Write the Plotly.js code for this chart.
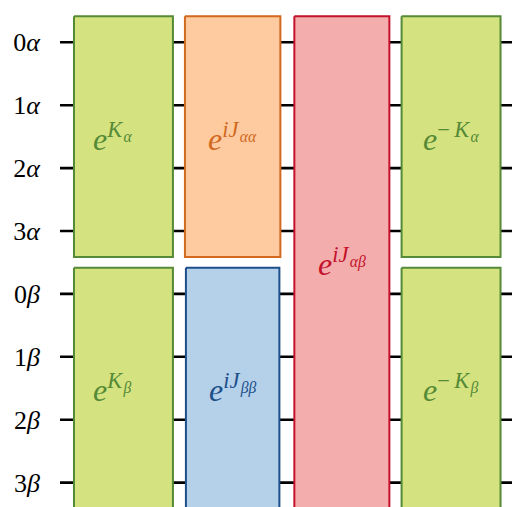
<!DOCTYPE html>
<html><head><meta charset="utf-8">
<script src="https://cdn.plot.ly/plotly-3.0.1.min.js"></script>
<style>html,body{margin:0;padding:0;background:#fff}#chart{width:512px;height:507px}</style>
</head><body><div id="chart"></div>
<script>
// wires (rows) and their labels
const wireRows = [0, 1, 2, 3, 4, 5, 6, 7];
const wireDigits = ['0', '1', '2', '3', '0', '1', '2', '3'];
const wireGreek = ['α', 'α', 'α', 'α', 'β', 'β', 'β', 'β'];

// gate boxes
const boxKind = ['K', 'K', 'Jaa', 'Jbb', 'Jab', 'K', 'K'];
const boxCol = [1, 1, 2, 2, 3, 4, 4];
const boxRowStart = [0, 4, 0, 4, 0, 0, 4];
const boxRowEnd = [3, 7, 3, 7, 7, 3, 7];
const boxSup = ['K', 'K', 'iJ', 'iJ', 'iJ', '−K', '−K'];
const boxSub = ['α', 'β', 'αα', 'ββ', 'αβ', 'α', 'β'];

const styles = {
  K:   {fill: '#d4e27f', edge: '#558a36', half: 0.453},
  Jaa: {fill: '#fdcb9f', edge: '#d2691f', half: 0.437},
  Jbb: {fill: '#b5d1ea', edge: '#1d4f8a', half: 0.428},
  Jab: {fill: '#f3adad', edge: '#c4122c', half: 0.435}
};
const rowPad = 0.415;
const xRange = [0.419, 4.558];
const yRange = [7.388, -0.6725];

function italicize(s) {
  return s.split('').map(ch => ch === '−' ? ch + '\u2009' : '<i>' + ch + '</i>').join('');
}

const traces = [];
// wires
wireRows.forEach(r => {
  traces.push({
    type: 'scatter', mode: 'lines', x: [xRange[0], xRange[1]], y: [r, r],
    line: {color: '#000', width: 2.6}, hoverinfo: 'skip', showlegend: false
  });
});
// boxes
const annotations = [];
boxKind.forEach((k, i) => {
  const st = styles[k];
  const c = boxCol[i];
  const y0 = boxRowStart[i] - rowPad, y1 = boxRowEnd[i] + rowPad;
  traces.push({
    type: 'scatter', mode: 'lines', fill: 'toself',
    x: [c - st.half, c + st.half, c + st.half, c - st.half, c - st.half],
    y: [y0, y0, y1, y1, y0],
    fillcolor: st.fill, line: {color: st.edge, width: 2},
    hoverinfo: 'skip', showlegend: false
  });
  annotations.push({
    x: c, y: (boxRowStart[i] + boxRowEnd[i]) / 2, xref: 'x', yref: 'y',
    xshift: c === 1 ? -11 : 0,
    text: '<i>e</i><sup>' + italicize(boxSup[i]) + '<sub>\u200a' + italicize(boxSub[i]) + '</sub></sup>',
    showarrow: false, xanchor: 'center', yanchor: 'middle',
    font: {family: 'Liberation Serif, DejaVu Serif, serif', size: 32, color: st.edge}
  });
});

const layout = {
  width: 512, height: 507,
  margin: {l: 60, r: 0, t: 0, b: 0},
  paper_bgcolor: '#fff', plot_bgcolor: '#fff',
  showlegend: false,
  xaxis: {range: xRange, showgrid: false, zeroline: false, showticklabels: false, showline: false, ticks: ''},
  yaxis: {
    range: yRange, showgrid: false, zeroline: false, showline: false, ticks: '',
    tickvals: wireRows,
    ticktext: wireRows.map(i => wireDigits[i] + '<i>' + wireGreek[i] + '</i>'),
    tickfont: {family: 'Liberation Serif, DejaVu Serif, serif', size: 26, color: '#000'},
    ticklabelstandoff: 19
  },
  annotations: annotations
};

Plotly.newPlot('chart', traces, layout, {staticPlot: true, displayModeBar: false});
</script>
</body></html>
